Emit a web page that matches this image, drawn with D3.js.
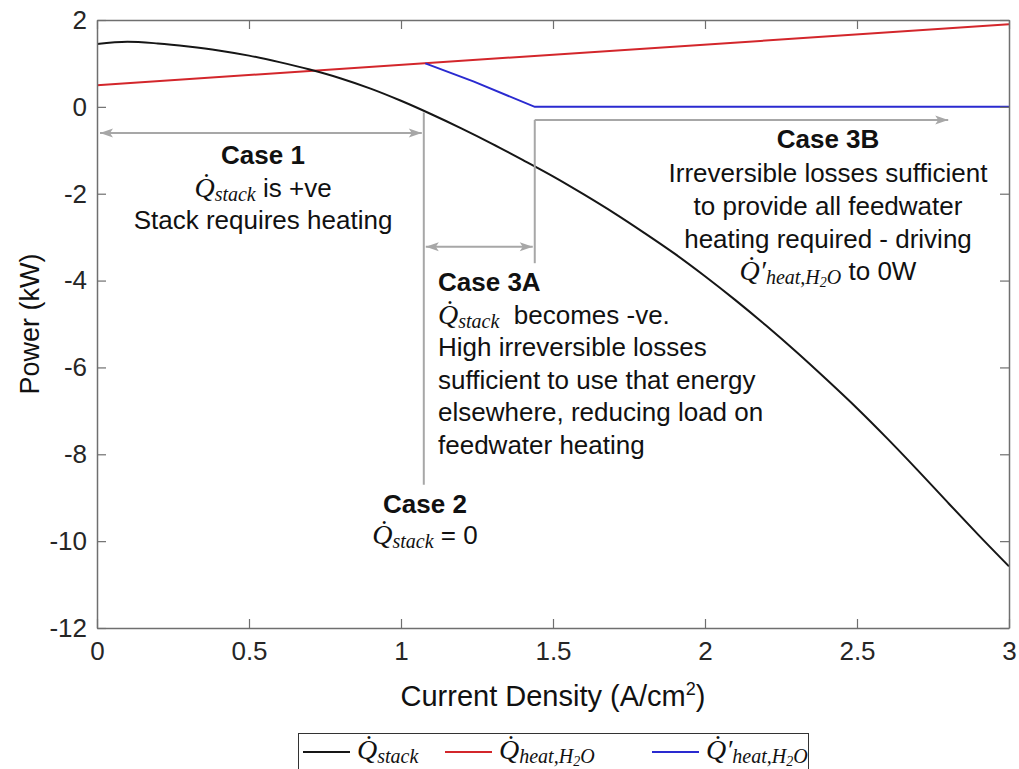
<!DOCTYPE html>
<html>
<head>
<meta charset="utf-8">
<script src="https://cdn.jsdelivr.net/npm/d3@7"></script>
<style>
  html, body { margin: 0; padding: 0; background: #fff; }
  svg { display: block; }
  .sans { font-family: "Liberation Sans", Arial, Helvetica, sans-serif; fill: #111; }
  .math { font-family: "Liberation Serif", "Times New Roman", serif; font-style: italic; }
</style>
</head>
<body>
<svg id="chart" width="1019" height="769"></svg>
<script>
// Current density samples (A/cm^2) and stack heat (kW)
const currentDensity = [0.0, 0.1, 0.2, 0.3, 0.4, 0.5, 0.6, 0.7, 0.8, 0.9, 1.0,
                        1.1, 1.2, 1.3, 1.4, 1.5, 1.6, 1.7, 1.8, 1.9, 2.0,
                        2.1, 2.2, 2.3, 2.4, 2.5, 2.6, 2.7, 2.8, 2.9, 3.0];
const qStack = [1.45, 1.50, 1.46, 1.39, 1.30, 1.18, 1.03, 0.86, 0.66, 0.42, 0.14,
                -0.17, -0.50, -0.85, -1.22, -1.60, -2.01, -2.44, -2.90, -3.38, -3.90,
                -4.45, -5.03, -5.64, -6.28, -6.94, -7.64, -8.37, -9.12, -9.86, -10.58];

// Feedwater heating demand (kW)
const qHeatDensity = [0.0, 3.0];
const qHeat = [0.50, 1.90];

// Feedwater heating after recovering stack losses (kW)
const qHeatPrimeDensity = [1.08, 1.24, 1.44, 3.0];
const qHeatPrime = [1.00, 0.58, 0.00, 0.00];

// Axis ticks
const xTicks = [0, 0.5, 1, 1.5, 2, 2.5, 3];
const yTicks = [-12, -10, -8, -6, -4, -2, 0, 2];

// Operating-regime boundaries (A/cm^2)
const case2Density = 1.075;
const case3bDensity = 1.44;
const case3bArrowEnd = 2.8;

const svg = d3.select("#chart");
const x = d3.scaleLinear().domain([0, 3]).range([97, 1009]);
const y = d3.scaleLinear().domain([-12, 2]).range([628, 20]);

const axisColor = "#6f6f6f";
const labelColor = "#262626";
const annoColor = "#a7a7a7";

// ---- curves ----
const smooth = d3.line().x(d => x(d[0])).y(d => y(d[1])).curve(d3.curveMonotoneX);
const straight = d3.line().x(d => x(d[0])).y(d => y(d[1]));

const series = [
  { xs: qHeatDensity, ys: qHeat, color: "#d3262b", gen: straight },
  { xs: qHeatPrimeDensity, ys: qHeatPrime, color: "#2a2ad0", gen: straight },
  { xs: currentDensity, ys: qStack, color: "#161616", gen: smooth }
];

const plot = svg.append("g");
plot.append("defs").append("clipPath").attr("id", "clip")
  .append("rect").attr("x", 97).attr("y", 20).attr("width", 912).attr("height", 608);

series.forEach(s => {
  plot.append("path")
    .datum(s.xs.map((v, i) => [v, s.ys[i]]))
    .attr("clip-path", "url(#clip)")
    .attr("fill", "none")
    .attr("stroke", s.color)
    .attr("stroke-width", 2)
    .attr("d", s.gen);
});

// ---- axes (box with inward ticks) ----
function styleAxis(g, showLabels) {
  g.select(".domain").attr("stroke", axisColor).attr("stroke-width", 1.5);
  g.selectAll(".tick line").attr("stroke", axisColor).attr("stroke-width", 1.2);
  g.selectAll(".tick text")
    .attr("fill", labelColor)
    .attr("font-family", "Liberation Sans, Arial, sans-serif")
    .attr("font-size", 26);
  if (!showLabels) g.selectAll(".tick text").remove();
}
const fmt = d => String(d);

svg.append("g").attr("transform", "translate(0,628)")
  .call(d3.axisBottom(x).tickValues(xTicks).tickFormat(fmt).tickSizeInner(-9).tickSizeOuter(0).tickPadding(14))
  .call(g => styleAxis(g, true));
svg.append("g").attr("transform", "translate(0,20)")
  .call(d3.axisTop(x).tickValues(xTicks).tickFormat(fmt).tickSizeInner(-9).tickSizeOuter(0))
  .call(g => styleAxis(g, false));
svg.append("g").attr("transform", "translate(97,0)")
  .call(d3.axisLeft(y).tickValues(yTicks).tickFormat(fmt).tickSizeInner(-9).tickSizeOuter(0).tickPadding(10))
  .call(g => styleAxis(g, true));
svg.append("g").attr("transform", "translate(1009,0)")
  .call(d3.axisRight(y).tickValues(yTicks).tickFormat(fmt).tickSizeInner(-9).tickSizeOuter(0))
  .call(g => styleAxis(g, false));

// Axis titles
svg.append("text").attr("class", "sans")
  .attr("x", 553).attr("y", 706).attr("text-anchor", "middle")
  .attr("font-size", 29).attr("fill", labelColor)
  .call(t => {
    t.append("tspan").text("Current Density (A/cm");
    t.append("tspan").attr("font-size", 18).attr("dy", -11).text("2");
    t.append("tspan").attr("dy", 11).text(")");
  });
svg.append("text").attr("class", "sans")
  .attr("transform", "translate(39,324) rotate(-90)")
  .attr("text-anchor", "middle").attr("font-size", 27).attr("fill", labelColor)
  .text("Power (kW)");

// ---- annotation arrows and guide lines ----
const defs = svg.append("defs");
defs.append("marker").attr("id", "head")
  .attr("markerUnits", "userSpaceOnUse")
  .attr("viewBox", "-14 -6 16 12").attr("refX", 0).attr("refY", 0)
  .attr("markerWidth", 16).attr("markerHeight", 12)
  .attr("orient", "auto-start-reverse")
  .append("path").attr("d", "M0,0 L-13,-4.5 L-10,0 L-13,4.5 Z").attr("fill", annoColor);

const anno = svg.append("g").attr("stroke", annoColor).attr("stroke-width", 2).attr("fill", "none");

// Case 1 span
anno.append("line")
  .attr("x1", x(0) + 3).attr("x2", x(case2Density) - 2)
  .attr("y1", y(-0.6)).attr("y2", y(-0.6))
  .attr("marker-start", "url(#head)").attr("marker-end", "url(#head)");
// Case 2 boundary
anno.append("line")
  .attr("x1", x(case2Density)).attr("x2", x(case2Density))
  .attr("y1", y(-0.13)).attr("y2", y(-8.7));
// Case 3B boundary
anno.append("line")
  .attr("x1", x(case3bDensity)).attr("x2", x(case3bDensity))
  .attr("y1", y(-0.3)).attr("y2", y(-3.6));
// Case 3A span
anno.append("line")
  .attr("x1", x(case2Density) + 2).attr("x2", x(case3bDensity) - 2)
  .attr("y1", y(-3.22)).attr("y2", y(-3.22))
  .attr("marker-start", "url(#head)").attr("marker-end", "url(#head)");
// Case 3B span
anno.append("line")
  .attr("x1", x(case3bDensity)).attr("x2", x(case3bArrowEnd))
  .attr("y1", y(-0.3)).attr("y2", y(-0.3))
  .attr("marker-end", "url(#head)");

// ---- annotation text ----
// Adds a dotted Q (optionally primed) with its subscript; returns the baseline drop.
function qSymbol(t, sub, prime, size, subRatio) {
  t.append("tspan").attr("class", "math").attr("font-size", size).text(prime ? "Q\u0307\u2032" : "Q\u0307");
  const s = Math.round(size * (subRatio || 0.7));
  const drop = 4;
  if (sub === "heat") {
    t.append("tspan").attr("class", "math").attr("font-size", s).attr("dy", drop).text("heat,H");
    t.append("tspan").attr("class", "math").attr("font-size", Math.round(s * 0.72)).attr("dy", 3).attr("font-style", "normal").text("2");
    t.append("tspan").attr("class", "math").attr("font-size", s).attr("dy", -3).text("O");
  } else {
    t.append("tspan").attr("class", "math").attr("font-size", s).attr("dy", drop).text(sub);
  }
  return drop;
}

function block(cx, anchor, lines) {
  lines.forEach(l => {
    const t = svg.append("text").attr("class", "sans")
      .attr("x", cx).attr("y", l.y).attr("text-anchor", anchor)
      .attr("font-size", 26).attr("font-weight", l.bold ? "bold" : null);
    if (l.parts) {
      let drop = 0;
      l.parts.forEach(p => {
        if (typeof p === "string") {
          t.append("tspan").attr("dy", -drop).text(p);
          drop = 0;
        } else {
          drop = qSymbol(t, p.sub, p.prime, 28);
        }
      });
    } else {
      t.text(l.text);
    }
  });
}

block(263, "middle", [
  { y: 164, text: "Case 1", bold: true },
  { y: 197, parts: [{ sub: "stack" }, " is +ve"] },
  { y: 229, text: "Stack requires heating" }
]);

block(425, "middle", [
  { y: 513, text: "Case 2", bold: true },
  { y: 544, parts: [{ sub: "stack" }, " = 0"] }
]);

block(438, "start", [
  { y: 291, text: "Case 3A", bold: true },
  { y: 324, parts: [{ sub: "stack" }, "\u00a0\u00a0becomes -ve."] },
  { y: 356, text: "High irreversible losses" },
  { y: 389, text: "sufficient to use that energy" },
  { y: 421, text: "elsewhere, reducing load on" },
  { y: 454, text: "feedwater heating" }
]);

block(828, "middle", [
  { y: 148, text: "Case 3B", bold: true },
  { y: 182, text: "Irreversible losses sufficient" },
  { y: 215, text: "to provide all feedwater" },
  { y: 248, text: "heating required - driving" },
  { y: 280, parts: [{ sub: "heat", prime: true }, " to 0W"] }
]);

// ---- legend ----
const legend = svg.append("g");
legend.append("rect").attr("x", 298.5).attr("y", 733.5).attr("width", 510).attr("height", 50)
  .attr("fill", "#fff").attr("stroke", "#333").attr("stroke-width", 1);
const legendItems = [
  { color: "#161616", sub: "stack", prime: false, x0: 303 },
  { color: "#d3262b", sub: "heat", prime: false, x0: 445 },
  { color: "#2a2ad0", sub: "heat", prime: true, x0: 652 }
];
legendItems.forEach(it => {
  legend.append("line").attr("x1", it.x0).attr("x2", it.x0 + 47)
    .attr("y1", 752).attr("y2", 752).attr("stroke", it.color).attr("stroke-width", 2);
  const t = legend.append("text").attr("class", "sans").attr("x", it.x0 + 54).attr("y", 759).attr("font-size", 26);
  qSymbol(t, it.sub, it.prime, 28, 0.71);
});
</script>
</body>
</html>
